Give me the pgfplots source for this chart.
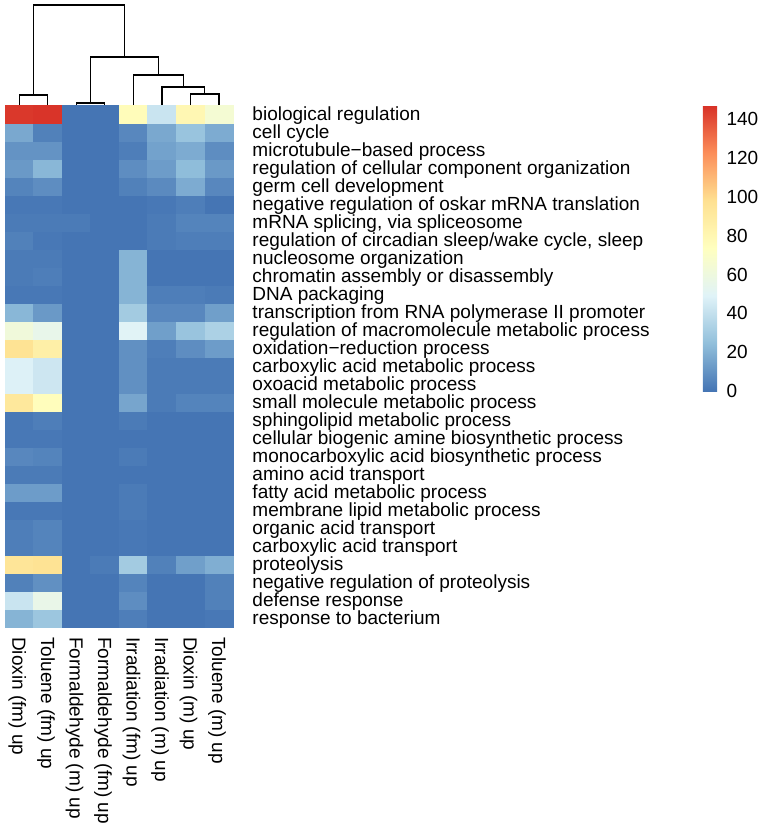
\documentclass[border=0pt]{standalone}
\usepackage{fontspec}
\setmainfont{Liberation Sans}
\usepackage{pgfplots}
\pgfplotsset{compat=1.18}
\pgfplotsset{
  colormap={rdylbu}{rgb255=(69,117,180) rgb255=(145,191,219) rgb255=(224,243,248) rgb255=(255,255,191) rgb255=(254,224,144) rgb255=(252,141,89) rgb255=(215,48,39)}
}
\newcommand{\lblfont}{\fontsize{19}{22}\selectfont}
\begin{document}
\begin{tikzpicture}
\path[use as bounding box] (0pt,0pt) rectangle (761pt,-827pt);
\begin{axis}[
  at={(5pt,-627pt)}, anchor=south west,
  scale only axis, width=228.3pt, height=522pt,
  xmin=0, xmax=8, ymin=0, ymax=29,
  clip=false,
  axis line style={draw=none},
  major tick length=0pt,
  tick style={draw=none},
  xtick={0.5,1.5,...,7.5},
  xticklabels={Dioxin (fm) up, Toluene (fm) up, Formaldehyde (m) up, Formaldehyde (fm) up, Irradiation (fm) up, Irradiation (m) up, Dioxin (m) up, Toluene (m) up},
  xticklabel style={font=\lblfont, rotate=-90, anchor=west, inner sep=0pt, text height=13.6pt, text depth=0pt},
  xticklabel shift=10pt,
  ytick={0.5,1.5,...,28.5},
  yticklabel pos=right,
  yticklabels={response to bacterium, defense response, negative regulation of proteolysis, proteolysis, carboxylic acid transport, organic acid transport, membrane lipid metabolic process, fatty acid metabolic process, amino acid transport, monocarboxylic acid biosynthetic process, cellular biogenic amine biosynthetic process, sphingolipid metabolic process, small molecule metabolic process, oxoacid metabolic process, carboxylic acid metabolic process, oxidation−reduction process, regulation of macromolecule metabolic process, transcription from RNA polymerase II promoter, DNA packaging, chromatin assembly or disassembly, nucleosome organization, {regulation of circadian sleep/wake cycle, sleep}, {mRNA splicing, via spliceosome}, negative regulation of oskar mRNA translation, germ cell development, regulation of cellular component organization, microtubule−based process, cell cycle, biological regulation},
  yticklabel style={font=\lblfont, anchor=west, inner sep=0pt, text height=13.6pt, text depth=0pt},
  yticklabel shift=19pt,
  colormap name=rdylbu,
  point meta min=0, point meta max=147,
  colorbar,
  colorbar shift/.style={xshift=469.5pt},
  colorbar style={
    at={(parent axis.north east)}, anchor=north west,
    scale only axis, width=18.5pt, height=286pt,
    axis line style={draw=none},
    major tick length=0pt, tick style={draw=none},
    ytick={0,20,...,140},
    yticklabel pos=right,
    yticklabel style={font=\lblfont, anchor=west, inner sep=0pt, text height=13.6pt, text depth=0pt},
    yticklabel shift=5pt,
    /pgf/number format/assume math mode=true,
  },
]
\addplot[matrix plot*, mesh/cols=8, point meta=explicit, draw=none] coordinates {
(0.5,0.5)[21] (1.5,0.5)[28] (2.5,0.5)[0] (3.5,0.5)[0] (4.5,0.5)[3] (5.5,0.5)[0] (6.5,0.5)[0] (7.5,0.5)[1]
(0.5,1.5)[42] (1.5,1.5)[56] (2.5,1.5)[0] (3.5,1.5)[0] (4.5,1.5)[8] (5.5,1.5)[0] (6.5,1.5)[0] (7.5,1.5)[4]
(0.5,2.5)[4] (1.5,2.5)[9] (2.5,2.5)[0] (3.5,2.5)[0] (4.5,2.5)[5] (5.5,2.5)[0] (6.5,2.5)[0] (7.5,2.5)[4]
(0.5,3.5)[94] (1.5,3.5)[96] (2.5,3.5)[0] (3.5,3.5)[2] (4.5,3.5)[30] (5.5,3.5)[4] (6.5,3.5)[14] (7.5,3.5)[19]
(0.5,4.5)[3] (1.5,4.5)[5] (2.5,4.5)[0] (3.5,4.5)[0] (4.5,4.5)[1] (5.5,4.5)[0] (6.5,4.5)[0] (7.5,4.5)[0]
(0.5,5.5)[3] (1.5,5.5)[5] (2.5,5.5)[0] (3.5,5.5)[0] (4.5,5.5)[1] (5.5,5.5)[0] (6.5,5.5)[0] (7.5,5.5)[0]
(0.5,6.5)[1] (1.5,6.5)[1] (2.5,6.5)[0] (3.5,6.5)[0] (4.5,6.5)[2] (5.5,6.5)[0] (6.5,6.5)[0] (7.5,6.5)[0]
(0.5,7.5)[13] (1.5,7.5)[13] (2.5,7.5)[0] (3.5,7.5)[0] (4.5,7.5)[2] (5.5,7.5)[0] (6.5,7.5)[0] (7.5,7.5)[0]
(0.5,8.5)[2] (1.5,8.5)[2] (2.5,8.5)[0] (3.5,8.5)[0] (4.5,8.5)[0] (5.5,8.5)[0] (6.5,8.5)[0] (7.5,8.5)[0]
(0.5,9.5)[6] (1.5,9.5)[5] (2.5,9.5)[0] (3.5,9.5)[0] (4.5,9.5)[2] (5.5,9.5)[0] (6.5,9.5)[0] (7.5,9.5)[0]
(0.5,10.5)[1] (1.5,10.5)[1] (2.5,10.5)[0] (3.5,10.5)[0] (4.5,10.5)[0] (5.5,10.5)[0] (6.5,10.5)[0] (7.5,10.5)[0]
(0.5,11.5)[1] (1.5,11.5)[3] (2.5,11.5)[0] (3.5,11.5)[0] (4.5,11.5)[2] (5.5,11.5)[0] (6.5,11.5)[0] (7.5,11.5)[0]
(0.5,12.5)[92] (1.5,12.5)[75] (2.5,12.5)[0] (3.5,12.5)[0] (4.5,12.5)[16] (5.5,12.5)[2] (6.5,12.5)[5] (7.5,12.5)[5]
(0.5,13.5)[48] (1.5,13.5)[43] (2.5,13.5)[0] (3.5,13.5)[0] (4.5,13.5)[9] (5.5,13.5)[2] (6.5,13.5)[2] (7.5,13.5)[2]
(0.5,14.5)[48] (1.5,14.5)[43] (2.5,14.5)[0] (3.5,14.5)[0] (4.5,14.5)[9] (5.5,14.5)[2] (6.5,14.5)[2] (7.5,14.5)[2]
(0.5,15.5)[96] (1.5,15.5)[86] (2.5,15.5)[0] (3.5,15.5)[0] (4.5,15.5)[9] (5.5,15.5)[3] (6.5,15.5)[8] (7.5,15.5)[13]
(0.5,16.5)[62] (1.5,16.5)[55] (2.5,16.5)[0] (3.5,16.5)[0] (4.5,16.5)[50] (5.5,16.5)[14] (6.5,16.5)[27] (7.5,16.5)[33]
(0.5,17.5)[22] (1.5,17.5)[12] (2.5,17.5)[0] (3.5,17.5)[0] (4.5,17.5)[30] (5.5,17.5)[6] (6.5,17.5)[6] (7.5,17.5)[14]
(0.5,18.5)[1] (1.5,18.5)[1] (2.5,18.5)[0] (3.5,18.5)[0] (4.5,18.5)[21] (5.5,18.5)[3] (6.5,18.5)[3] (7.5,18.5)[2]
(0.5,19.5)[2] (1.5,19.5)[3] (2.5,19.5)[0] (3.5,19.5)[0] (4.5,19.5)[21] (5.5,19.5)[0] (6.5,19.5)[0] (7.5,19.5)[0]
(0.5,20.5)[2] (1.5,20.5)[2] (2.5,20.5)[0] (3.5,20.5)[0] (4.5,20.5)[21] (5.5,20.5)[0] (6.5,20.5)[0] (7.5,20.5)[0]
(0.5,21.5)[4] (1.5,21.5)[1] (2.5,21.5)[0] (3.5,21.5)[0] (4.5,21.5)[0] (5.5,21.5)[2] (6.5,21.5)[3] (7.5,21.5)[3]
(0.5,22.5)[2] (1.5,22.5)[2] (2.5,22.5)[2] (3.5,22.5)[0] (4.5,22.5)[0] (5.5,22.5)[2] (6.5,22.5)[5] (7.5,22.5)[5]
(0.5,23.5)[1] (1.5,23.5)[1] (2.5,23.5)[0] (3.5,23.5)[0] (4.5,23.5)[0] (5.5,23.5)[1] (6.5,23.5)[3] (7.5,23.5)[0]
(0.5,24.5)[5] (1.5,24.5)[8] (2.5,24.5)[0] (3.5,24.5)[0] (4.5,24.5)[4] (5.5,24.5)[7] (6.5,24.5)[18] (7.5,24.5)[6]
(0.5,25.5)[12] (1.5,25.5)[22] (2.5,25.5)[0] (3.5,25.5)[0] (4.5,25.5)[8] (5.5,25.5)[13] (6.5,25.5)[24] (7.5,25.5)[12]
(0.5,26.5)[10] (1.5,26.5)[10] (2.5,26.5)[0] (3.5,26.5)[0] (4.5,26.5)[3] (5.5,26.5)[15] (6.5,26.5)[18] (7.5,26.5)[8]
(0.5,27.5)[17] (1.5,27.5)[4] (2.5,27.5)[0] (3.5,27.5)[0] (4.5,27.5)[6] (5.5,27.5)[17] (6.5,27.5)[27] (7.5,27.5)[18]
(0.5,28.5)[145] (1.5,28.5)[146] (2.5,28.5)[0] (3.5,28.5)[0] (4.5,28.5)[76] (5.5,28.5)[42] (6.5,28.5)[80] (7.5,28.5)[65]
};
% dendrogram
\addplot[black, line width=1.2pt, mark=none] coordinates {(0.5,29) (0.5,29.556) (1.5,29.556) (1.5,29)};
\addplot[black, line width=1.2pt, mark=none] coordinates {(2.5,29) (2.5,29.111) (3.5,29.111) (3.5,29)};
\addplot[black, line width=1.2pt, mark=none] coordinates {(6.5,29) (6.5,29.611) (7.5,29.611) (7.5,29)};
\addplot[black, line width=1.2pt, mark=none] coordinates {(5.5,29) (5.5,30) (7,30) (7,29.611)};
\addplot[black, line width=1.2pt, mark=none] coordinates {(4.5,29) (4.5,30.667) (6.25,30.667) (6.25,30)};
\addplot[black, line width=1.2pt, mark=none] coordinates {(3,29.111) (3,31.667) (5.375,31.667) (5.375,30.667)};
\addplot[black, line width=1.2pt, mark=none] coordinates {(1,29.556) (1,34.556) (4.1875,34.556) (4.1875,31.667)};
\end{axis}
\end{tikzpicture}
\end{document}
